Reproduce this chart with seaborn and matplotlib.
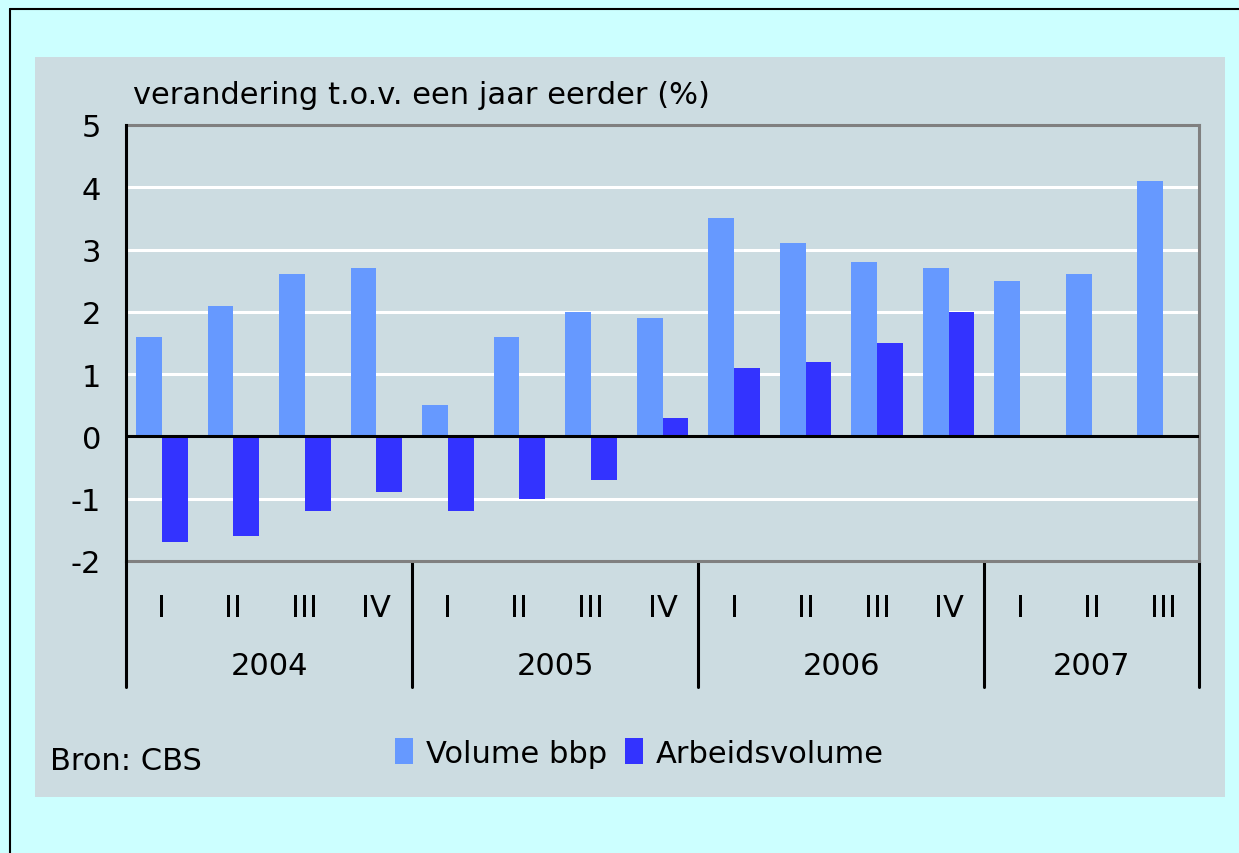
"""
Volume bbp en arbeidsvolume, verandering t.o.v. een jaar eerder (%)
"""
import numpy as np
import pandas as pd
import matplotlib.pyplot as plt
from matplotlib.patches import Rectangle, Patch
from matplotlib.lines import Line2D
import seaborn as sns

YEARS = ["2004", "2005", "2006", "2007"]
QUARTERS = ["I", "II", "III", "IV", "I", "II", "III", "IV", "I", "II", "III", "IV", "I", "II", "III"]
QUARTER_YEAR = ["2004"] * 4 + ["2005"] * 4 + ["2006"] * 4 + ["2007"] * 3
VOLUME_BBP = [1.6, 2.1, 2.6, 2.7, 0.5, 1.6, 2.0, 1.9, 3.5, 3.1, 2.8, 2.7, 2.5, 2.6, 4.1]
ARBEIDSVOLUME = [-1.7, -1.6, -1.2, -0.9, -1.2, -1.0, -0.7, 0.3, 1.1, 1.2, 1.5, 2.0,
                 np.nan, np.nan, np.nan]
SERIES = ["Volume bbp", "Arbeidsvolume"]

COLORS = {"Volume bbp": "#6699FF", "Arbeidsvolume": "#3333FF"}
OUTER_BG = "#CCFFFF"
PANEL_BG = "#CCDCE1"
FRAME = "#808080"

W, H = 1239, 854

sns.set_style("white")
plt.rcParams["font.family"] = ["DejaVu Sans"]
plt.rcParams["text.color"] = "black"
plt.rcParams["xtick.labelcolor"] = "black"
plt.rcParams["ytick.labelcolor"] = "black"
FS = 22

keys = [f"{y} {q}" for y, q in zip(QUARTER_YEAR, QUARTERS)]
df = pd.concat([
    pd.DataFrame({"kwartaal": keys, "waarde": VOLUME_BBP, "reeks": SERIES[0]}),
    pd.DataFrame({"kwartaal": keys, "waarde": ARBEIDSVOLUME, "reeks": SERIES[1]}),
], ignore_index=True).dropna()

fig = plt.figure(figsize=(W / 100, H / 100), dpi=100, facecolor=OUTER_BG)

# buitenrand (links en boven) en grijs paneel
fig.add_artist(Line2D([10 / W, 10 / W], [0, 1 - 10 / H], color="black", lw=1.5, transform=fig.transFigure))
fig.add_artist(Line2D([10 / W, 1], [1 - 10 / H, 1 - 10 / H], color="black", lw=1.5, transform=fig.transFigure))
fig.add_artist(Rectangle((35 / W, 1 - 798 / H), 1190 / W, 740 / H, transform=fig.transFigure,
                         facecolor=PANEL_BG, edgecolor="none", zorder=0))

ax = fig.add_axes([126 / W, 1 - 562 / H, 1073 / W, 436 / H])
ax.set_facecolor(PANEL_BG)

sns.barplot(data=df, x="kwartaal", y="waarde", hue="reeks", hue_order=SERIES, order=keys,
            palette=COLORS, saturation=1, width=0.72, linewidth=0, ax=ax, legend=False, zorder=3)

ax.set_ylim(-2, 5)
ax.set_xlim(-0.5, len(keys) - 0.5)
ax.set_yticks(range(-2, 6))
ax.set_yticklabels([str(v) for v in range(-2, 6)], fontsize=FS)
ax.tick_params(axis="y", length=7, width=2, color="black", pad=11, direction="out")
ax.set_xticks(range(len(keys)))
ax.set_xticklabels(QUARTERS, fontsize=FS)
ax.tick_params(axis="x", length=0, pad=23)
ax.set_xlabel("")
ax.set_ylabel("")

for v in [-1, 1, 2, 3, 4]:
    ax.axhline(v, color="white", lw=2.2, zorder=1)
ax.axhline(0, color="black", lw=2.2, zorder=4)

for side in ["top", "right", "bottom"]:
    ax.spines[side].set_color(FRAME)
    ax.spines[side].set_linewidth(2.2)
ax.spines["left"].set_color("black")
ax.spines["left"].set_linewidth(2.2)
ax.spines["left"].set_zorder(5)

# jaarscheidingen en jaarlabels
trans = ax.get_xaxis_transform()
bounds = [-0.5, 3.5, 7.5, 11.5, len(keys) - 0.5]
for b in bounds:
    ax.plot([b, b], [0, -126 / 436], color="black", lw=2.2, transform=trans, clip_on=False)
for i, yr in enumerate(YEARS):
    ax.text((bounds[i] + bounds[i + 1]) / 2, -105 / 436, yr, transform=trans,
            ha="center", va="center", fontsize=FS)

fig.text(133 / W, 1 - 95 / H, "verandering t.o.v. een jaar eerder (%)", fontsize=FS,
         ha="left", va="center")
fig.text(50 / W, 1 - 762 / H, "Bron: CBS", fontsize=FS, ha="left", va="center")

handles = [Patch(facecolor=COLORS[s], edgecolor="none", label=s) for s in SERIES]
fig.legend(handles=handles, loc="center left", bbox_to_anchor=(395 / W, 1 - 754 / H), ncol=2,
           frameon=False, fontsize=FS, handlelength=0.6, handleheight=0.9,
           handletextpad=0.4, columnspacing=0.6, borderaxespad=0, borderpad=0)

fig.savefig("out.png", dpi=100, facecolor=OUTER_BG)
